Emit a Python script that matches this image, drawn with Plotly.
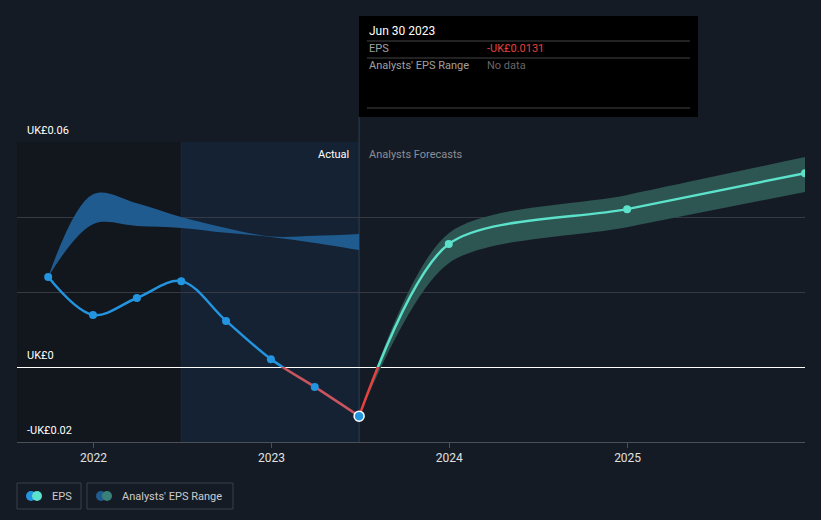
import plotly.graph_objects as go

# actual EPS (quarterly)
actual_dates = ["2021-09-30", "2021-12-31", "2022-03-31", "2022-06-30",
                "2022-09-30", "2022-12-31", "2023-03-31", "2023-06-30"]
actual_eps = [0.0240, 0.0139, 0.0184, 0.0229, 0.0123, 0.0021, -0.0053, -0.0131]

# past analysts' range
range_high = [0.0240, 0.0461, 0.0437, 0.0400, 0.0371, 0.0348, 0.0350, 0.0355]
range_low = [0.0240, 0.0381, 0.0376, 0.0371, 0.0358, 0.0347, 0.0331, 0.0312]

# forecasts
fc_dates = ["2023-06-30", "2023-12-31", "2024-12-31", "2025-12-31"]
fc_eps = [-0.0131, 0.0328, 0.0421, 0.0517]
fc_high = [-0.0131, 0.0357, 0.0459, 0.0560]
fc_low = [-0.0131, 0.0277, 0.0373, 0.0467]

x_tick_vals = ["2022-01-01", "2023-01-01", "2024-01-01", "2025-01-01"]
x_tick_text = ["2022", "2023", "2024", "2025"]
y_grid_vals = [-0.02, 0, 0.02, 0.04, 0.06]
y_label_vals = [0.06, 0, -0.02]
y_label_text = ["UK£0.06", "UK£0", "-UK£0.02"]

BG = "#151b24"
BLUE = "#2394df"
TEAL = "#5ce1cb"
RED = "#e5413f"
FONT = "Roboto"
FC_SMOOTH = 0.8

W, H = 821, 520
L, R, T, B = 17, 16, 142, 78
PW, PH = W - L - R, H - T - B


def px(x):
    return (x - L) / PW


def py(y):
    return (T + PH - y) / PH


fig = go.Figure()

# blue analysts' range (past)
fig.add_trace(go.Scatter(x=actual_dates, y=range_low, mode="lines", line=dict(width=0, shape="spline"),
                         hoverinfo="skip", showlegend=False))
fig.add_trace(go.Scatter(x=actual_dates, y=range_high, mode="lines", line=dict(width=0, shape="spline"),
                         fill="tonexty", fillcolor="#1f5b8e", hoverinfo="skip", showlegend=False))

# teal forecast range
fig.add_trace(go.Scatter(x=fc_dates, y=fc_low, mode="lines",
                         line=dict(width=0, shape="spline", smoothing=FC_SMOOTH),
                         hoverinfo="skip", showlegend=False))
fig.add_trace(go.Scatter(x=fc_dates, y=fc_high, mode="lines",
                         line=dict(width=0, shape="spline", smoothing=FC_SMOOTH),
                         fill="tonexty", fillcolor="#2d5552", hoverinfo="skip", showlegend=False))

# lines split by sign via clipped subplots (y2 = above zero, y3 = below zero)
fig.add_trace(go.Scatter(x=actual_dates, y=actual_eps, yaxis="y2", mode="lines",
                         line=dict(color=BLUE, width=2.5, shape="spline"), hoverinfo="skip", showlegend=False))
fig.add_trace(go.Scatter(x=fc_dates, y=fc_eps, yaxis="y2", mode="lines",
                         line=dict(color=TEAL, width=2.5, shape="spline", smoothing=FC_SMOOTH),
                         hoverinfo="skip", showlegend=False))
fig.add_trace(go.Scatter(x=actual_dates, y=actual_eps, yaxis="y3", mode="lines",
                         line=dict(color="#c9555e", width=2.5, shape="spline"), hoverinfo="skip", showlegend=False))
fig.add_trace(go.Scatter(x=fc_dates, y=fc_eps, yaxis="y3", mode="lines",
                         line=dict(color=RED, width=2.5, shape="spline", smoothing=FC_SMOOTH),
                         hoverinfo="skip", showlegend=False))

# markers
pos = [(d, v) for d, v in zip(actual_dates, actual_eps) if v >= 0]
neg = [(d, v) for d, v in zip(actual_dates, actual_eps) if v < 0]
fig.add_trace(go.Scatter(x=[p[0] for p in pos], y=[p[1] for p in pos], yaxis="y2", mode="markers",
                         marker=dict(color=BLUE, size=8), hoverinfo="skip", showlegend=False))
fig.add_trace(go.Scatter(x=fc_dates[1:], y=fc_eps[1:], yaxis="y2", mode="markers",
                         marker=dict(color=TEAL, size=8), hoverinfo="skip", showlegend=False))
fig.add_trace(go.Scatter(x=[p[0] for p in neg], y=[p[1] for p in neg], yaxis="y3", mode="markers",
                         marker=dict(color=BLUE, size=[8] * (len(neg) - 1) + [10], opacity=1,
                                     line=dict(color="white", width=[0] * (len(neg) - 1) + [1.5])),
                         hoverinfo="skip", showlegend=False))

shapes = [
    # darker past region and highlighted last year
    dict(type="rect", xref="x", yref="paper", x0="2021-07-28", x1="2022-06-30", y0=0, y1=1,
         fillcolor="#12161d", line_width=0, layer="below"),
    dict(type="rect", xref="x", yref="paper", x0="2022-06-30", x1="2023-06-30", y0=0, y1=1,
         fillcolor="#142233", line_width=0, layer="below"),
    dict(type="line", xref="x", yref="paper", x0="2022-06-30", x1="2022-06-30", y0=0, y1=1,
         line=dict(color="#1c2a38", width=1), layer="below"),
    dict(type="line", xref="x", yref="paper", x0="2023-06-30", x1="2023-06-30", y0=0, y1=py(117),
         line=dict(color="#2a3f55", width=1), layer="below"),
    # tooltip
    dict(type="rect", xref="paper", yref="paper", x0=px(359), x1=px(698), y0=py(117), y1=py(16),
         fillcolor="#000000", line_width=0),
]
for yy in (41, 58, 108):
    shapes.append(dict(type="line", xref="paper", yref="paper", x0=px(367), x1=px(690), y0=py(yy), y1=py(yy),
                       line=dict(color="#444444", width=1)))

# legend boxes
for x0, x1 in ((17, 81), (87, 233)):
    shapes.append(dict(type="rect", xref="paper", yref="paper", x0=px(x0), x1=px(x1), y0=py(509), y1=py(483),
                       line=dict(color="#3a3f4a", width=1), fillcolor="rgba(0,0,0,0)"))
for cx, col in ((31, BLUE), (37, TEAL), (101, "#1f5b8e"), (107, "#3a8078")):
    shapes.append(dict(type="circle", xref="paper", yref="paper", x0=px(cx - 5), x1=px(cx + 5),
                       y0=py(501), y1=py(491), fillcolor=col, line_width=0))

annotations = []
for v, t in zip(y_label_vals, y_label_text):
    annotations.append(dict(x=px(25), xref="paper", y=v, yref="y", yshift=12, text=t, showarrow=False,
                            xanchor="left", yanchor="middle", font=dict(family=FONT, size=11, color="#ffffff")))

annotations += [
    dict(x="2023-06-30", xref="x", xshift=-8, y=py(154), yref="paper", text="Actual", showarrow=False,
         xanchor="right", yanchor="middle", font=dict(family=FONT, size=11, color="#ffffff")),
    dict(x="2023-06-30", xref="x", xshift=8, y=py(154), yref="paper", text="Analysts Forecasts",
         showarrow=False, xanchor="left", yanchor="middle", font=dict(family=FONT, size=11, color="#8a8f98")),
    dict(x=px(367), xref="paper", y=py(31), yref="paper", text="Jun 30 2023", showarrow=False,
         xanchor="left", yanchor="middle", font=dict(family=FONT, size=12, color="#ffffff")),
    dict(x=px(367), xref="paper", y=py(49), yref="paper", text="EPS", showarrow=False,
         xanchor="left", yanchor="middle", font=dict(family=FONT, size=11, color="#a0a0a0")),
    dict(x=px(485), xref="paper", y=py(49), yref="paper", text="-UK£0.0131", showarrow=False,
         xanchor="left", yanchor="middle", font=dict(family=FONT, size=11, color=RED)),
    dict(x=px(367), xref="paper", y=py(66), yref="paper", text="Analysts' EPS Range", showarrow=False,
         xanchor="left", yanchor="middle", font=dict(family=FONT, size=11, color="#a0a0a0")),
    dict(x=px(485), xref="paper", y=py(66), yref="paper", text="No data", showarrow=False,
         xanchor="left", yanchor="middle", font=dict(family=FONT, size=11, color="#666666")),
    dict(x=px(50), xref="paper", y=py(496), yref="paper", text="EPS", showarrow=False,
         xanchor="left", yanchor="middle", font=dict(family=FONT, size=11, color="#cccccc")),
    dict(x=px(120), xref="paper", y=py(496), yref="paper", text="Analysts' EPS Range", showarrow=False,
         xanchor="left", yanchor="middle", font=dict(family=FONT, size=11, color="#cccccc")),
]

fig.update_layout(
    width=W, height=H,
    margin=dict(l=L, r=R, t=T, b=B),
    paper_bgcolor=BG,
    plot_bgcolor="rgba(0,0,0,0)",
    font=dict(family=FONT, color="#dddddd"),
    xaxis=dict(type="date", range=["2021-07-28", "2025-12-31"], tickvals=x_tick_vals, ticktext=x_tick_text,
               showgrid=False, zeroline=False, showline=True, linecolor="#4a4f58", linewidth=1,
               ticks="outside", ticklen=5, tickcolor="#4a4f58", tickfont=dict(size=12, color="#e0e0e0")),
    yaxis=dict(range=[-0.02, 0.06], domain=[0, 1], tickvals=y_grid_vals, showticklabels=False,
               showgrid=True, gridcolor="#353a44", gridwidth=1, zeroline=True, zerolinecolor="#ffffff",
               zerolinewidth=1, showline=False, fixedrange=True),
    yaxis2=dict(range=[0, 0.06], domain=[0.25, 1], anchor="x", visible=False, showgrid=False, zeroline=False),
    yaxis3=dict(range=[-0.02, 0], domain=[0, 0.25], anchor="x", visible=False, showgrid=False, zeroline=False),
    shapes=shapes,
    annotations=annotations,
    showlegend=False,
)

fig.write_html("out.html", config={"displayModeBar": False},
               post_script="document.body.style.margin='0';document.body.style.background='%s';" % BG)
